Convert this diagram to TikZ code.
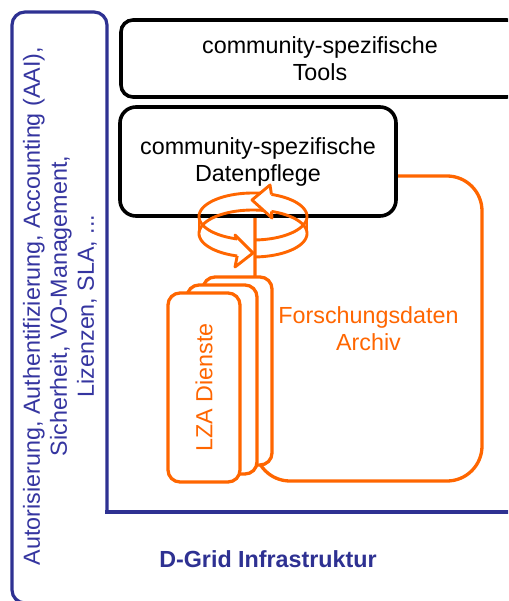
\documentclass[tikz,border=0pt]{standalone}
\usepackage{fontspec}
\setmainfont{Liberation Sans}
\definecolor{dblue}{HTML}{2E3192}
\definecolor{tblue}{HTML}{3535A0}
\definecolor{orng}{HTML}{FF6600}
\begin{document}
\begin{tikzpicture}[x=1pt,y=-1pt,
  txt/.style={font=\fontsize{23.3}{27}\selectfont},
  blackbox/.style={draw=black, line width=3.6pt, fill=white, align=center, inner sep=0pt, txt},
  orangebox/.style={draw=orng, line width=3.3pt, fill=white, inner sep=0pt, txt, text=orng, align=center},
  blueline/.style={draw=dblue, line width=3.2pt},
  ringline/.style={draw=orng, line width=2.9pt, line join=round}
]
\useasboundingbox (0,0) rectangle (508,601);
\fill[white] (0,0) rectangle (508,601);
\begin{scope}
\clip (0,0) rectangle (508,601);
% blue frame
\draw[blueline, line cap=rect] (520,512) -- (107,512);
\draw[blueline, rounded corners=13pt] (107,512) -- (107,12) -- (12,12) -- (12,603) -- (90,603);
% boxes
\node[blackbox, rounded corners=12pt, minimum width=398pt, minimum height=77pt] (tools) at (320,58.5) {community-spezifische\\Tools};
\node[orangebox, fill=none, rounded corners=35pt, minimum width=227pt, minimum height=305pt] (archiv) at (368.5,328.5) {Forschungsdaten\\Archiv};
\node[blackbox, rounded corners=16pt, minimum width=276pt, minimum height=109pt] (daten) at (258,161.5) {community-spezifische\\Datenpflege};
% ring with two arrows
% arrow 1 (front right -> back, head at back pointing left)
\draw[ringline] plot[domain=-70:88, samples=60] ({253+54*cos(\x)},{216.5+23.5*sin(\x)});
\draw[ringline] plot[domain=-70:88, samples=60] ({253+54*cos(\x)},{233.5+23.5*sin(\x)});
\draw[ringline] (307,216.5) -- (307,233.5);
\draw[ringline] ({253+54*cos(-70)},{216.5+23.5*sin(-70)}) -- (270,185) -- (252,200) -- (272,218) -- ({253+54*cos(-70)},{233.5+23.5*sin(-70)});
% arrow 2 (back -> front left, head at front pointing right)
\draw[ringline] plot[domain=107:278.5, samples=60] ({253+54*cos(\x)},{216.5+23.5*sin(\x)});
\draw[ringline] plot[domain=107:281, samples=60] ({253+54*cos(\x)},{233.5+23.5*sin(\x)});
\draw[ringline] (199,216.5) -- (199,233.5);
\draw[ringline] ({253+54*cos(107)},{216.5+23.5*sin(107)}) -- (235,235) -- (253,253) -- (235,267) -- ({253+54*cos(107)},{233.5+23.5*sin(107)});
% LZA cards
\node[orangebox, rounded corners=12pt, minimum width=69pt, minimum height=188pt] (card3) at (237.5,371) {};
\node[orangebox, rounded corners=12pt, minimum width=70pt, minimum height=189pt] (card2) at (222,379.5) {};
\node[orangebox, rounded corners=12pt, rotate=90, minimum width=189pt, minimum height=72pt] (lza) at (204,387.5) {LZA Dienste};
% texts
\node[txt, text=tblue, rotate=90, align=center, inner sep=0pt] (aai) at (60,306) {Autorisierung, Authentifizierung, Accounting (AAI),\\Sicherheit, VO-Management,\\Lizenzen, SLA, ...};
\node[font=\bfseries\fontsize{23.3}{27}\selectfont, text=dblue, inner sep=0pt] (dgrid) at (268,559) {D-Grid Infrastruktur};
\end{scope}
\end{tikzpicture}
\end{document}
